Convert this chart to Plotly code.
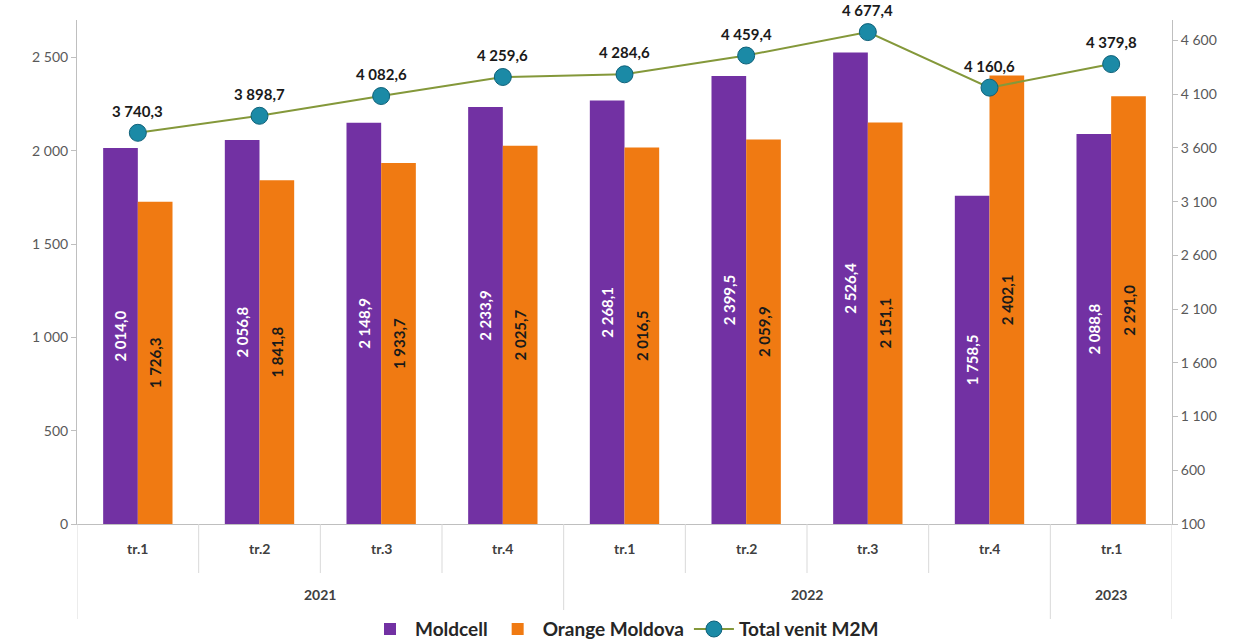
import plotly.graph_objects as go

years = ["2021"] * 4 + ["2022"] * 4 + ["2023"]
quarters = ["tr.1", "tr.2", "tr.3", "tr.4", "tr.1", "tr.2", "tr.3", "tr.4", "tr.1"]
moldcell = [2014.0, 2056.8, 2148.9, 2233.9, 2268.1, 2399.5, 2526.4, 1758.5, 2088.8]
orange = [1726.3, 1841.8, 1933.7, 2025.7, 2016.5, 2059.9, 2151.1, 2402.1, 2291.0]
total = [3740.3, 3898.7, 4082.6, 4259.6, 4284.6, 4459.4, 4677.4, 4160.6, 4379.8]


def fmt(v):
    return f"{v:,.1f}".replace(",", " ").replace(".", ",")


FONT = "Lato, 'Open Sans', sans-serif"
x = [years, quarters]
PLOT_H = 504  # plot area height in px (642 - 20 - 118)

fig = go.Figure()
fig.add_trace(go.Bar(
    x=x, y=moldcell, name="Moldcell",
    marker=dict(color="#7231a3", line=dict(width=0)),
    text=[fmt(v) for v in moldcell], textposition="inside", insidetextanchor="middle",
    textangle=-90, constraintext="none",
    textfont=dict(color="white", size=15, family=FONT, weight="bold"),
))
fig.add_trace(go.Bar(
    x=x, y=orange, name="Orange Moldova",
    marker=dict(color="#f07a12", line=dict(width=0)),
    text=[fmt(v) for v in orange], textposition="inside", insidetextanchor="middle",
    textangle=-90, constraintext="none",
    textfont=dict(color="#1a1a1a", size=15, family=FONT, weight="bold"),
))
fig.add_trace(go.Scatter(
    x=x, y=total, name="Total venit M2M", yaxis="y2", mode="lines+markers",
    line=dict(color="#84983a", width=2),
    marker=dict(size=17, color="#1b8aa6", line=dict(color="#0f6179", width=1)),
))

# line value labels
for i, v in enumerate(total):
    fig.add_annotation(x=i, y=v, xref="x", yref="y2", text=fmt(v), showarrow=False,
                       yshift=22, font=dict(size=15, color="#1a1a1a", family=FONT, weight="bold"))

# category table: quarter labels, year labels, separators
LABEL_FONT = dict(size=14, color="#404040", family=FONT, weight="bold")
for i, q in enumerate(quarters):
    fig.add_annotation(x=i, y=0, xref="x", yref="paper", text=q, showarrow=False,
                       yshift=-35, font=LABEL_FONT)
year_names = list(dict.fromkeys(years))
for yname in year_names:
    idx = [i for i, yv in enumerate(years) if yv == yname]
    fig.add_annotation(x=sum(idx) / len(idx), y=0, xref="x", yref="paper", text=yname,
                       showarrow=False, yshift=-81, font=LABEL_FONT)

n = len(quarters)
for b in range(n + 1):
    pos = b - 0.5
    is_year_edge = b == 0 or b == n or years[b] != years[b - 1]
    depth = 95 if is_year_edge else 49
    fig.add_shape(type="line", xref="x", yref="paper", x0=pos, x1=pos, y0=0,
                  y1=-depth / PLOT_H, line=dict(color="#d9d9d9", width=1))

fig.update_layout(
    width=1252, height=642,
    margin=dict(l=77, r=80, t=20, b=118, autoexpand=False),
    plot_bgcolor="white", paper_bgcolor="white",
    barmode="group", bargap=0.43, bargroupgap=0,
    font=dict(family=FONT, color="#404040"),
    separators=", ",
    showlegend=True,
    legend=dict(orientation="h", x=0.5, xanchor="center", yref="container", y=0.02, yanchor="middle",
                font=dict(size=19, color="#262626", family=FONT, weight="bold"),
                itemwidth=40, traceorder="normal"),
    xaxis=dict(
        type="multicategory", showline=True, linecolor="#bfbfbf", linewidth=1,
        ticks="", showticklabels=False, showdividers=False, automargin=False,
        range=[-0.5, n - 0.5],
        showgrid=False, zeroline=False,
    ),
    yaxis=dict(
        range=[0, 2700], tick0=0, dtick=500, separatethousands=True,
        showline=True, linecolor="#bfbfbf", linewidth=1, automargin=False,
        ticks="outside", ticklen=5, tickcolor="#bfbfbf",
        tickfont=dict(size=14, color="#595959", family=FONT),
        showgrid=False, zeroline=False,
    ),
    yaxis2=dict(
        overlaying="y", side="right",
        range=[100, 4790], tick0=100, dtick=500, separatethousands=True,
        showline=True, linecolor="#bfbfbf", linewidth=1, automargin=False,
        ticks="outside", ticklen=5, tickcolor="#bfbfbf",
        tickfont=dict(size=14, color="#595959", family=FONT),
        showgrid=False, zeroline=False,
    ),
)

fig.write_html("out.html", config={"displayModeBar": False},
               post_script="document.body.style.margin='0';")
